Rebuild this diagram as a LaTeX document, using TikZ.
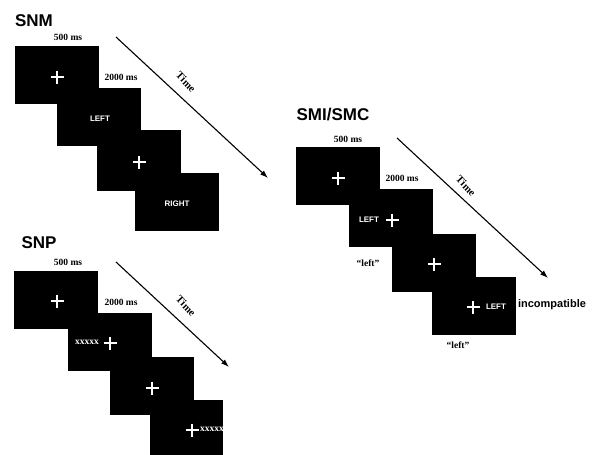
\documentclass[tikz,border=0pt]{standalone}
\usepackage{fontspec}
\setmainfont{Liberation Serif}
\newfontfamily\arialf{Liberation Sans}
\usetikzlibrary{arrows.meta}
\tikzset{
  scr/.style={fill=black, draw=none, inner sep=0pt, anchor=north west, minimum width=84pt, minimum height=58pt},
  title/.style={font=\arialf\bfseries\fontsize{17}{17}\selectfont, inner sep=0pt},
  dur/.style={font=\bfseries\fontsize{9.5}{9.5}\selectfont, inner sep=0pt},
  wtxt/.style={text=white, font=\arialf\bfseries\fontsize{8}{8}\selectfont, inner sep=0pt},
  xtxt/.style={text=white, font=\bfseries\fontsize{9.5}{9.5}\selectfont, inner sep=0pt},
  resp/.style={font=\bfseries\fontsize{9.5}{9.5}\selectfont, inner sep=0pt},
  timelbl/.style={font=\bfseries\fontsize{10.5}{10.5}\selectfont, inner sep=0pt, rotate=-47},
  timearrow/.style={line width=1.1pt, -{Latex[length=8pt,width=5.5pt]}},
  fixc/.pic={\draw[white, line width=1.6pt] (-6.5,0) -- (6.5,0) (0,-6.5) -- (0,6.5);}
}
\begin{document}
\begin{tikzpicture}[x=1pt, y=-1pt]
\useasboundingbox (0,0) rectangle (597,455);

% ---------------- SNM ----------------
\node[title] (snm) at (34,21) {SNM};
\node[scr] (m1) at (15,46) {};
\node[scr] (m2) at (57,88) {};
\node[scr, minimum height=61pt] (m3) at (97,130) {};
\node[scr] (m4) at (135,173) {};
\node[dur] (m500) at (68,37) {500 ms};
\node[dur] (m2000) at (121,77) {2000 ms};
\pic at (57,77) {fixc};
\node[wtxt] (mleft) at (100,119) {LEFT};
\pic at (139,162) {fixc};
\node[wtxt] (mright) at (177,204) {RIGHT};
\coordinate (ms) at (116,37);
\coordinate (me) at (268,178);
\draw[timearrow] (ms) -- (me);
\node[timelbl] (mtime) at (186,82) {Time};

% ---------------- SMI/SMC ----------------
\node[title] (smi) at (333,115) {SMI/SMC};
\node[scr] (i1) at (296,147) {};
\node[scr] (i2) at (349,189) {};
\node[scr] (i3) at (392,234) {};
\node[scr] (i4) at (432,277) {};
\node[dur] (i500) at (348,139) {500 ms};
\node[dur] (i2000) at (402,178) {2000 ms};
\pic at (338,178) {fixc};
\node[wtxt] (ileft) at (369,220) {LEFT};
\pic at (392,220) {fixc};
\node[resp] (iresp1) at (368,263) {“left”};
\pic at (434,264) {fixc};
\pic at (473,307) {fixc};
\node[wtxt] (ileft2) at (496,307) {LEFT};
\node[font=\arialf\bfseries\fontsize{11}{11}\selectfont, inner sep=0pt] (incomp) at (552,305) {incompatible};
\node[resp] (iresp2) at (458,345) {“left”};
\coordinate (is) at (397,138);
\coordinate (ie) at (548,278);
\draw[timearrow] (is) -- (ie);
\node[timelbl] (itime) at (466,186) {Time};

% ---------------- SNP ----------------
\node[title] (snp) at (39,243) {SNP};
\node[scr] (p1) at (14,271) {};
\node[scr] (p2) at (68,313) {};
\node[scr] (p3) at (110,357) {};
\node[scr, minimum width=73pt, minimum height=55pt] (p4) at (150,400) {};
\node[dur] (p500) at (68,262) {500 ms};
\node[dur] (p2000) at (121,302) {2000 ms};
\pic at (57,301) {fixc};
\node[xtxt] (px1) at (87,342) {xxxxx};
\pic at (110,343) {fixc};
\pic at (152,388) {fixc};
\pic at (192,430) {fixc};
\begin{scope}
  \clip (150,400) rectangle (223,455);
  \node[xtxt, anchor=west] (px2) at (200,429) {xxxxx};
\end{scope}
\coordinate (ps) at (116,262);
\coordinate (pe) at (229,367);
\draw[timearrow] (ps) -- (pe);
\node[timelbl] (ptime) at (186,306) {Time};
\end{tikzpicture}
\end{document}
